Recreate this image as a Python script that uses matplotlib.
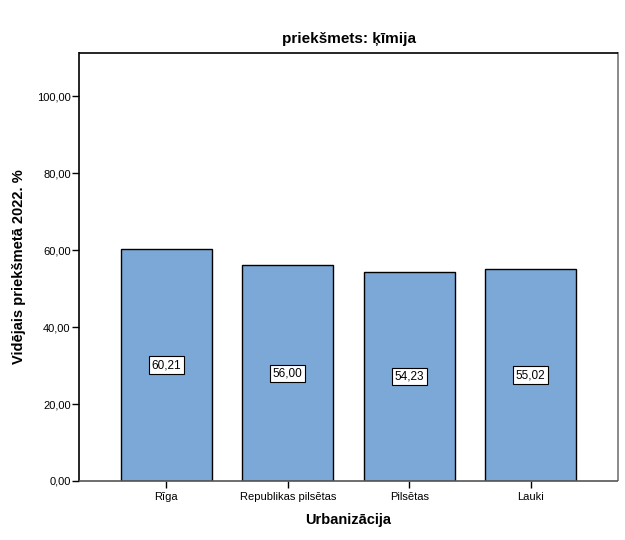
import matplotlib
matplotlib.use("Agg")
from matplotlib import pyplot as plt
import numpy as np

plt.rcParams['font.family'] = ['Liberation Sans', 'DejaVu Sans']

categories = ["Rīga", "Republikas pilsētas", "Pilsētas", "Lauki"]
values = [60.21, 56.00, 54.23, 55.02]
y_ticks = [0, 20, 40, 60, 80, 100]
title = "priekšmets: ķīmija"

fig = plt.figure(figsize=(6.25, 5.4), dpi=100)
ax = fig.add_axes([79 / 625, 59 / 540, (618 - 79) / 625, (481 - 52.5) / 540])

x = np.arange(len(categories))
bars = ax.bar(x, values, width=0.75, color="#7BA8D6", edgecolor="black", linewidth=1.0, zorder=2)

# etiketes ar vertibam bara vidu
for xi, v in zip(x, values):
    ax.text(xi, v / 2, f"{v:.2f}".replace(".", ","), ha="center", va="center", fontsize=8.5,
            bbox=dict(boxstyle="square,pad=0.22", fc="white", ec="black", lw=0.8), zorder=3)

ax.set_xlim(-0.72, 3.72)
ax.set_ylim(0, 111.3)
ax.set_yticks(y_ticks)
ax.set_yticklabels([f"{t:.2f}".replace(".", ",") for t in y_ticks], fontsize=8)
ax.set_xticks(x)
ax.set_xticklabels(categories, fontsize=8)
ax.tick_params(axis="y", direction="out", length=5, width=1, pad=1)
ax.tick_params(axis="x", direction="out", length=5, width=1, pad=3)

for side in ["left", "top"]:
    ax.spines[side].set_color("black")
ax.spines["bottom"].set_color("#555555")
ax.spines["right"].set_color("#777777")
for s in ax.spines.values():
    s.set_linewidth(1.2)
    s.set_capstyle("butt")

ax.set_ylabel("Vidējais priekšmetā 2022. %", fontsize=10.5, fontweight="bold", labelpad=8)
ax.set_xlabel("Urbanizācija", fontsize=10.5, fontweight="bold", labelpad=8)
ax.set_title(title, fontsize=11, fontweight="bold", pad=7)

fig.savefig("out.png", dpi=100)
